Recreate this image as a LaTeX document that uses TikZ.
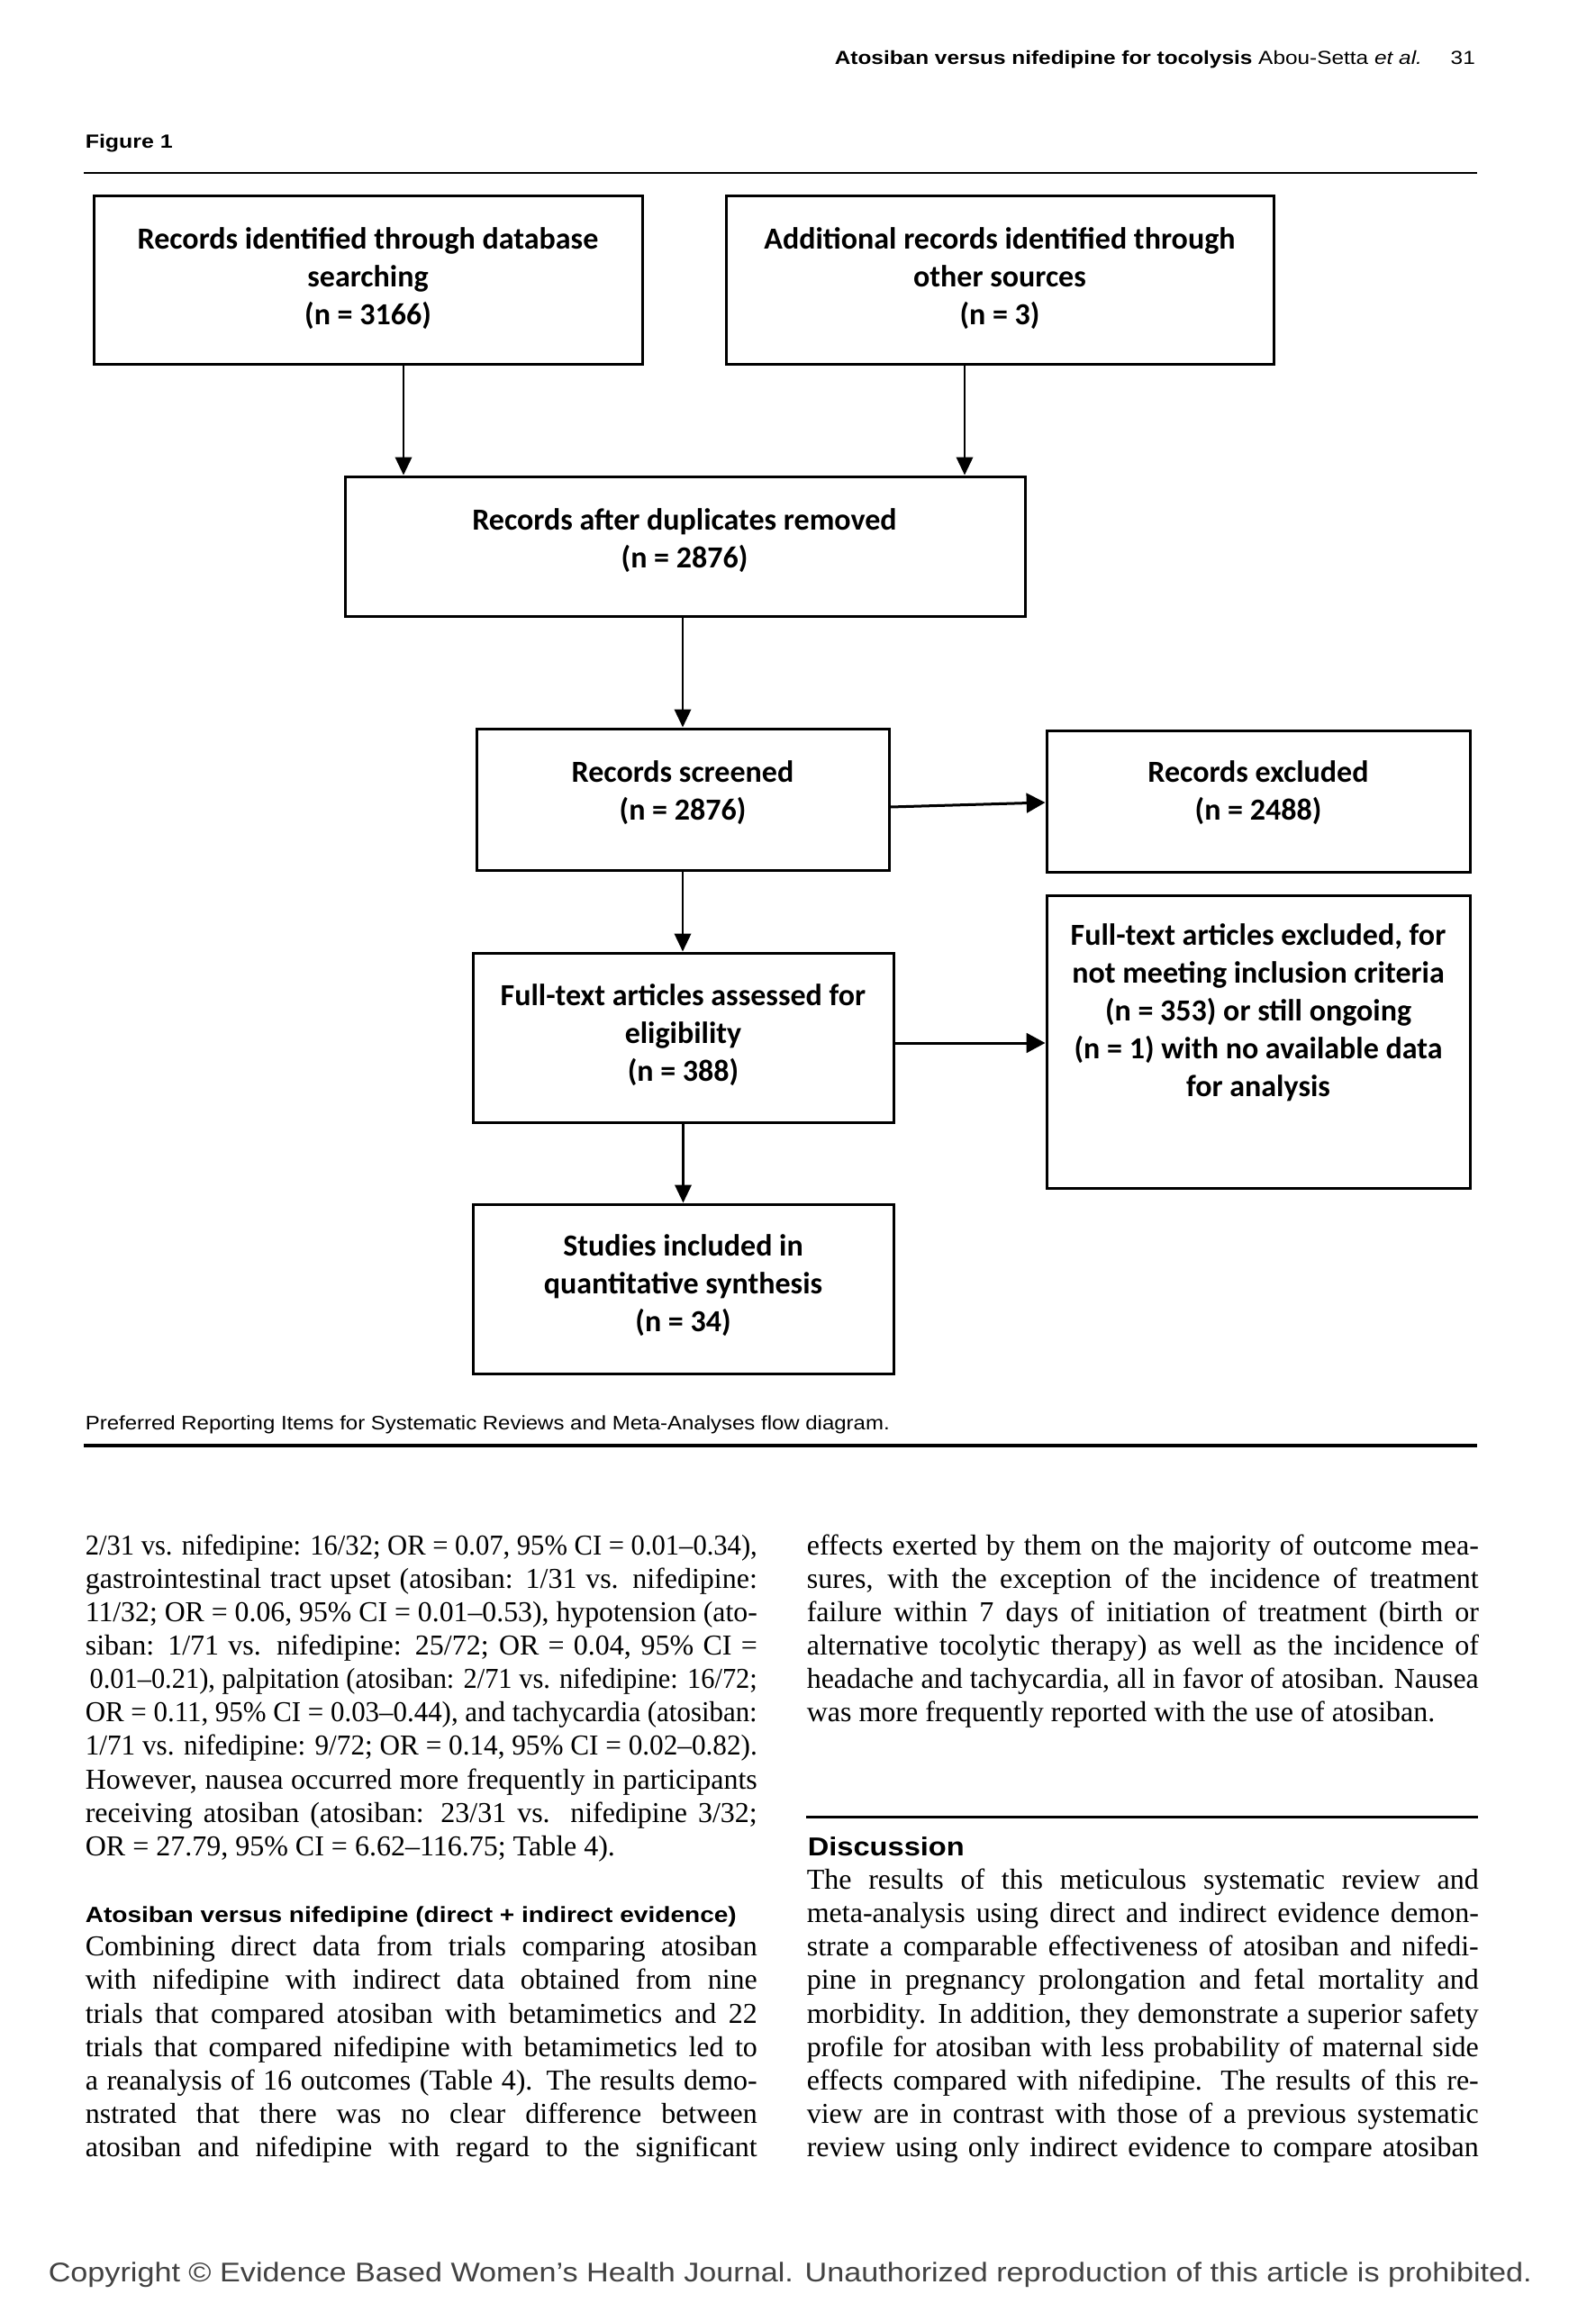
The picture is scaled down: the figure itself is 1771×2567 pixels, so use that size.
\documentclass[tikz,border=0pt]{standalone}
\usepackage{fontspec}
\usepackage{graphicx}
\usetikzlibrary{arrows.meta}
\setmainfont{Liberation Serif}
\newfontfamily\bodyfont{Liberation Serif}
\newfontfamily\hsans{Liberation Sans}
\newfontfamily\boxfont{Carlito}
\definecolor{copygray}{RGB}{66,66,66}

\newdimen\pxu \pxu=0.25pt
\newdimen\colw \colw=746\pxu
\newsavebox\linebox
\newcommand\jline[1]{\sbox\linebox{#1}\ifdim\wd\linebox>\colw\resizebox{\colw}{\height}{\usebox\linebox}\else\makebox[\colw][s]{#1}\fi}
\newcommand\fitw[2]{\resizebox{#1\pxu}{\height}{#2}}
\newcommand\bline[4]{\node[body] (#1) at (#2,{1726+37.15*#3}) {\jline{#4}};}
\newcommand\pline[4]{\node[body] (#1) at (#2,{1726+37.15*#3}) {#4};}

\tikzset{
  flowbox/.style={draw, line width=0.75pt, inner sep=0pt},
  boxwh/.style 2 args={minimum width=#1*0.25pt, minimum height=#2*0.25pt},
  boxtxt/.style={font=\boxfont\bfseries\fontsize{8.5pt}{10.5pt}\selectfont, align=center, inner sep=0pt},
  body/.style={font=\bodyfont\fontsize{8pt}{9pt}\selectfont, anchor=base west, inner sep=0pt},
  sanstxt/.style={anchor=base west, inner sep=0pt},
  flow/.style={-{Triangle[length=5pt,width=4.6pt]}, line width=0.6pt},
  side/.style={-{Triangle[length=5.2pt,width=5.4pt]}, line width=0.75pt},
}

\begin{document}
\begin{tikzpicture}[x=0.25pt, y=-0.25pt]
\useasboundingbox (0,0) rectangle (1771,2567);
\fill[white] (0,0) rectangle (1771,2567);

% running header
\node[sanstxt] (head) at (926,72) {\fitw{711}{\hsans\fontsize{5.25pt}{6pt}\selectfont\bfseries Atosiban versus nifedipine for tocolysis \mdseries Abou-Setta \itshape et al.\upshape\hspace{1.3em}31}};
\node[sanstxt] (fig) at (94,165) {\fitw{97}{\hsans\bfseries\fontsize{5.3pt}{6pt}\selectfont Figure 1}};
\draw[line width=0.6pt] (93,192) -- (1640,192);

% flow boxes
\node[flowbox, boxwh={609}{187}] (b1) at (408.5,311.5) {};
\node[flowbox, boxwh={608}{187}] (b2) at (1110,311.5) {};
\node[flowbox, boxwh={755}{155}] (b3) at (760.5,606.5) {};
\node[flowbox, boxwh={458}{157}] (b4) at (758,887.5) {};
\node[flowbox, boxwh={470}{157}] (b5) at (1397,889.5) {};
\node[flowbox, boxwh={467}{188}] (b6) at (758.5,1152) {};
\node[flowbox, boxwh={470}{325}] (b7) at (1397,1156.5) {};
\node[flowbox, boxwh={467}{188}] (b8) at (758.5,1431) {};

\node[boxtxt] (t1) at (408.5,309) {Records identified through database\\searching\\(n = 3166)};
\node[boxtxt] (t2) at (1110,309) {Additional records identified through\\other sources\\(n = 3)};
\node[boxtxt] (t3) at (760,600) {Records after duplicates removed\\(n = 2876)};
\node[boxtxt] (t4) at (758,880) {Records screened\\(n = 2876)};
\node[boxtxt] (t5) at (1397,880) {Records excluded\\(n = 2488)};
\node[boxtxt] (t6) at (758.5,1149) {Full-text articles assessed for\\eligibility\\(n = 388)};
\node[boxtxt] (t7) at (1397,1124) {Full-text articles excluded, for\\not meeting inclusion criteria\\(n = 353) or still ongoing\\(n = 1) with no available data\\for analysis};
\node[boxtxt] (t8) at (758.5,1427) {Studies included in\\quantitative synthesis\\(n = 34)};

% connectors
\coordinate (a1s) at ([xshift=9.875pt]b1.south);
\coordinate (a2s) at ([xshift=-9.75pt]b2.south);
\draw[flow] (a1s) -- (a1s |- b3.north);
\draw[flow] (a2s) -- (a2s |- b3.north);
\draw[flow] (b4.north |- b3.south) -- (b4.north);
\coordinate (a4s) at ([yshift=-2.125pt]b4.east);
\coordinate (a4e) at ([yshift=-0.375pt]b5.west);
\draw[side] (a4s) -- (a4e);
\draw[flow] (b4.south) -- (b4.south |- b6.north);
\coordinate (a6s) at ([yshift=-1.5pt]b6.east);
\draw[side] (a6s) -- (a6s -| b7.west);
\draw[flow] (b6.south) -- (b6.south |- b8.north);

% caption
\node[sanstxt] (cap) at (94,1587) {\fitw{893}{\hsans\fontsize{5.4pt}{6pt}\selectfont Preferred Reporting Items for Systematic Reviews and Meta-Analyses flow diagram.}};
\draw[line width=0.875pt] (93,1605) -- (1640,1605);

% left column
\bline{l0}{94}{0}{2/31 vs. nifedipine: 16/32; OR = 0.07, 95\% CI = 0.01–0.34),}
\bline{l1}{94}{1}{gastrointestinal tract upset (atosiban: 1/31 vs. nifedipine:}
\bline{l2}{94}{2}{11/32; OR = 0.06, 95\% CI = 0.01–0.53), hypotension (ato-}
\bline{l3}{94}{3}{siban: 1/71 vs. nifedipine: 25/72; OR = 0.04, 95\% CI =}
\bline{l4}{94}{4}{\hspace{5\pxu}0.01–0.21), palpitation (atosiban: 2/71 vs. nifedipine: 16/72;}
\bline{l5}{94}{5}{OR = 0.11, 95\% CI = 0.03–0.44), and tachycardia (atosiban:}
\bline{l6}{94}{6}{1/71 vs. nifedipine: 9/72; OR = 0.14, 95\% CI = 0.02–0.82).}
\bline{l7}{94}{7}{However, nausea occurred more frequently in participants}
\bline{l8}{94}{8}{receiving atosiban (atosiban: 23/31 vs. nifedipine 3/32;}
\pline{l9}{94}{9}{OR = 27.79, 95\% CI = 6.62–116.75; Table 4).}

\node[sanstxt] (h1) at (94,{1726+37.15*11}) {\fitw{723}{\hsans\bfseries\fontsize{6.1pt}{7pt}\selectfont Atosiban versus nifedipine (direct + indirect evidence)}};
\bline{l12}{94}{12}{Combining direct data from trials comparing atosiban}
\bline{l13}{94}{13}{with nifedipine with indirect data obtained from nine}
\bline{l14}{94}{14}{trials that compared atosiban with betamimetics and 22}
\bline{l15}{94}{15}{trials that compared nifedipine with betamimetics led to}
\bline{l16}{94}{16}{a reanalysis of 16 outcomes (Table 4). The results demo-}
\bline{l17}{94}{17}{nstrated that there was no clear difference between}
\bline{l18}{94}{18}{atosiban and nifedipine with regard to the significant}

% right column
\bline{r0}{895}{0}{effects exerted by them on the majority of outcome mea-}
\bline{r1}{895}{1}{sures, with the exception of the incidence of treatment}
\bline{r2}{895}{2}{failure within 7 days of initiation of treatment (birth or}
\bline{r3}{895}{3}{alternative tocolytic therapy) as well as the incidence of}
\bline{r4}{895}{4}{headache and tachycardia, all in favor of atosiban. Nausea}
\pline{r5}{895}{5}{was more frequently reported with the use of atosiban.}

\draw[line width=0.55pt] (895,2017.5) -- (1641,2017.5);
\node[sanstxt] (disc) at (896,{1726+37.15*9}) {\fitw{174}{\hsans\bfseries\fontsize{7.2pt}{8pt}\selectfont Discussion}};
\bline{r10}{895}{10}{The results of this meticulous systematic review and}
\bline{r11}{895}{11}{meta-analysis using direct and indirect evidence demon-}
\bline{r12}{895}{12}{strate a comparable effectiveness of atosiban and nifedi-}
\bline{r13}{895}{13}{pine in pregnancy prolongation and fetal mortality and}
\bline{r14}{895}{14}{morbidity. In addition, they demonstrate a superior safety}
\bline{r15}{895}{15}{profile for atosiban with less probability of maternal side}
\bline{r16}{895}{16}{effects compared with nifedipine. The results of this re-}
\bline{r17}{895}{17}{view are in contrast with those of a previous systematic}
\bline{r18}{895}{18}{review using only indirect evidence to compare atosiban}

% copyright line
\node[sanstxt] (copy) at (53,2533) {\fitw{1647}{\color{copygray}\hsans\fontsize{7.5pt}{9pt}\selectfont Copyright © Evidence Based Women’s Health Journal. Unauthorized reproduction of this article is prohibited.}};
\end{tikzpicture}
\end{document}
